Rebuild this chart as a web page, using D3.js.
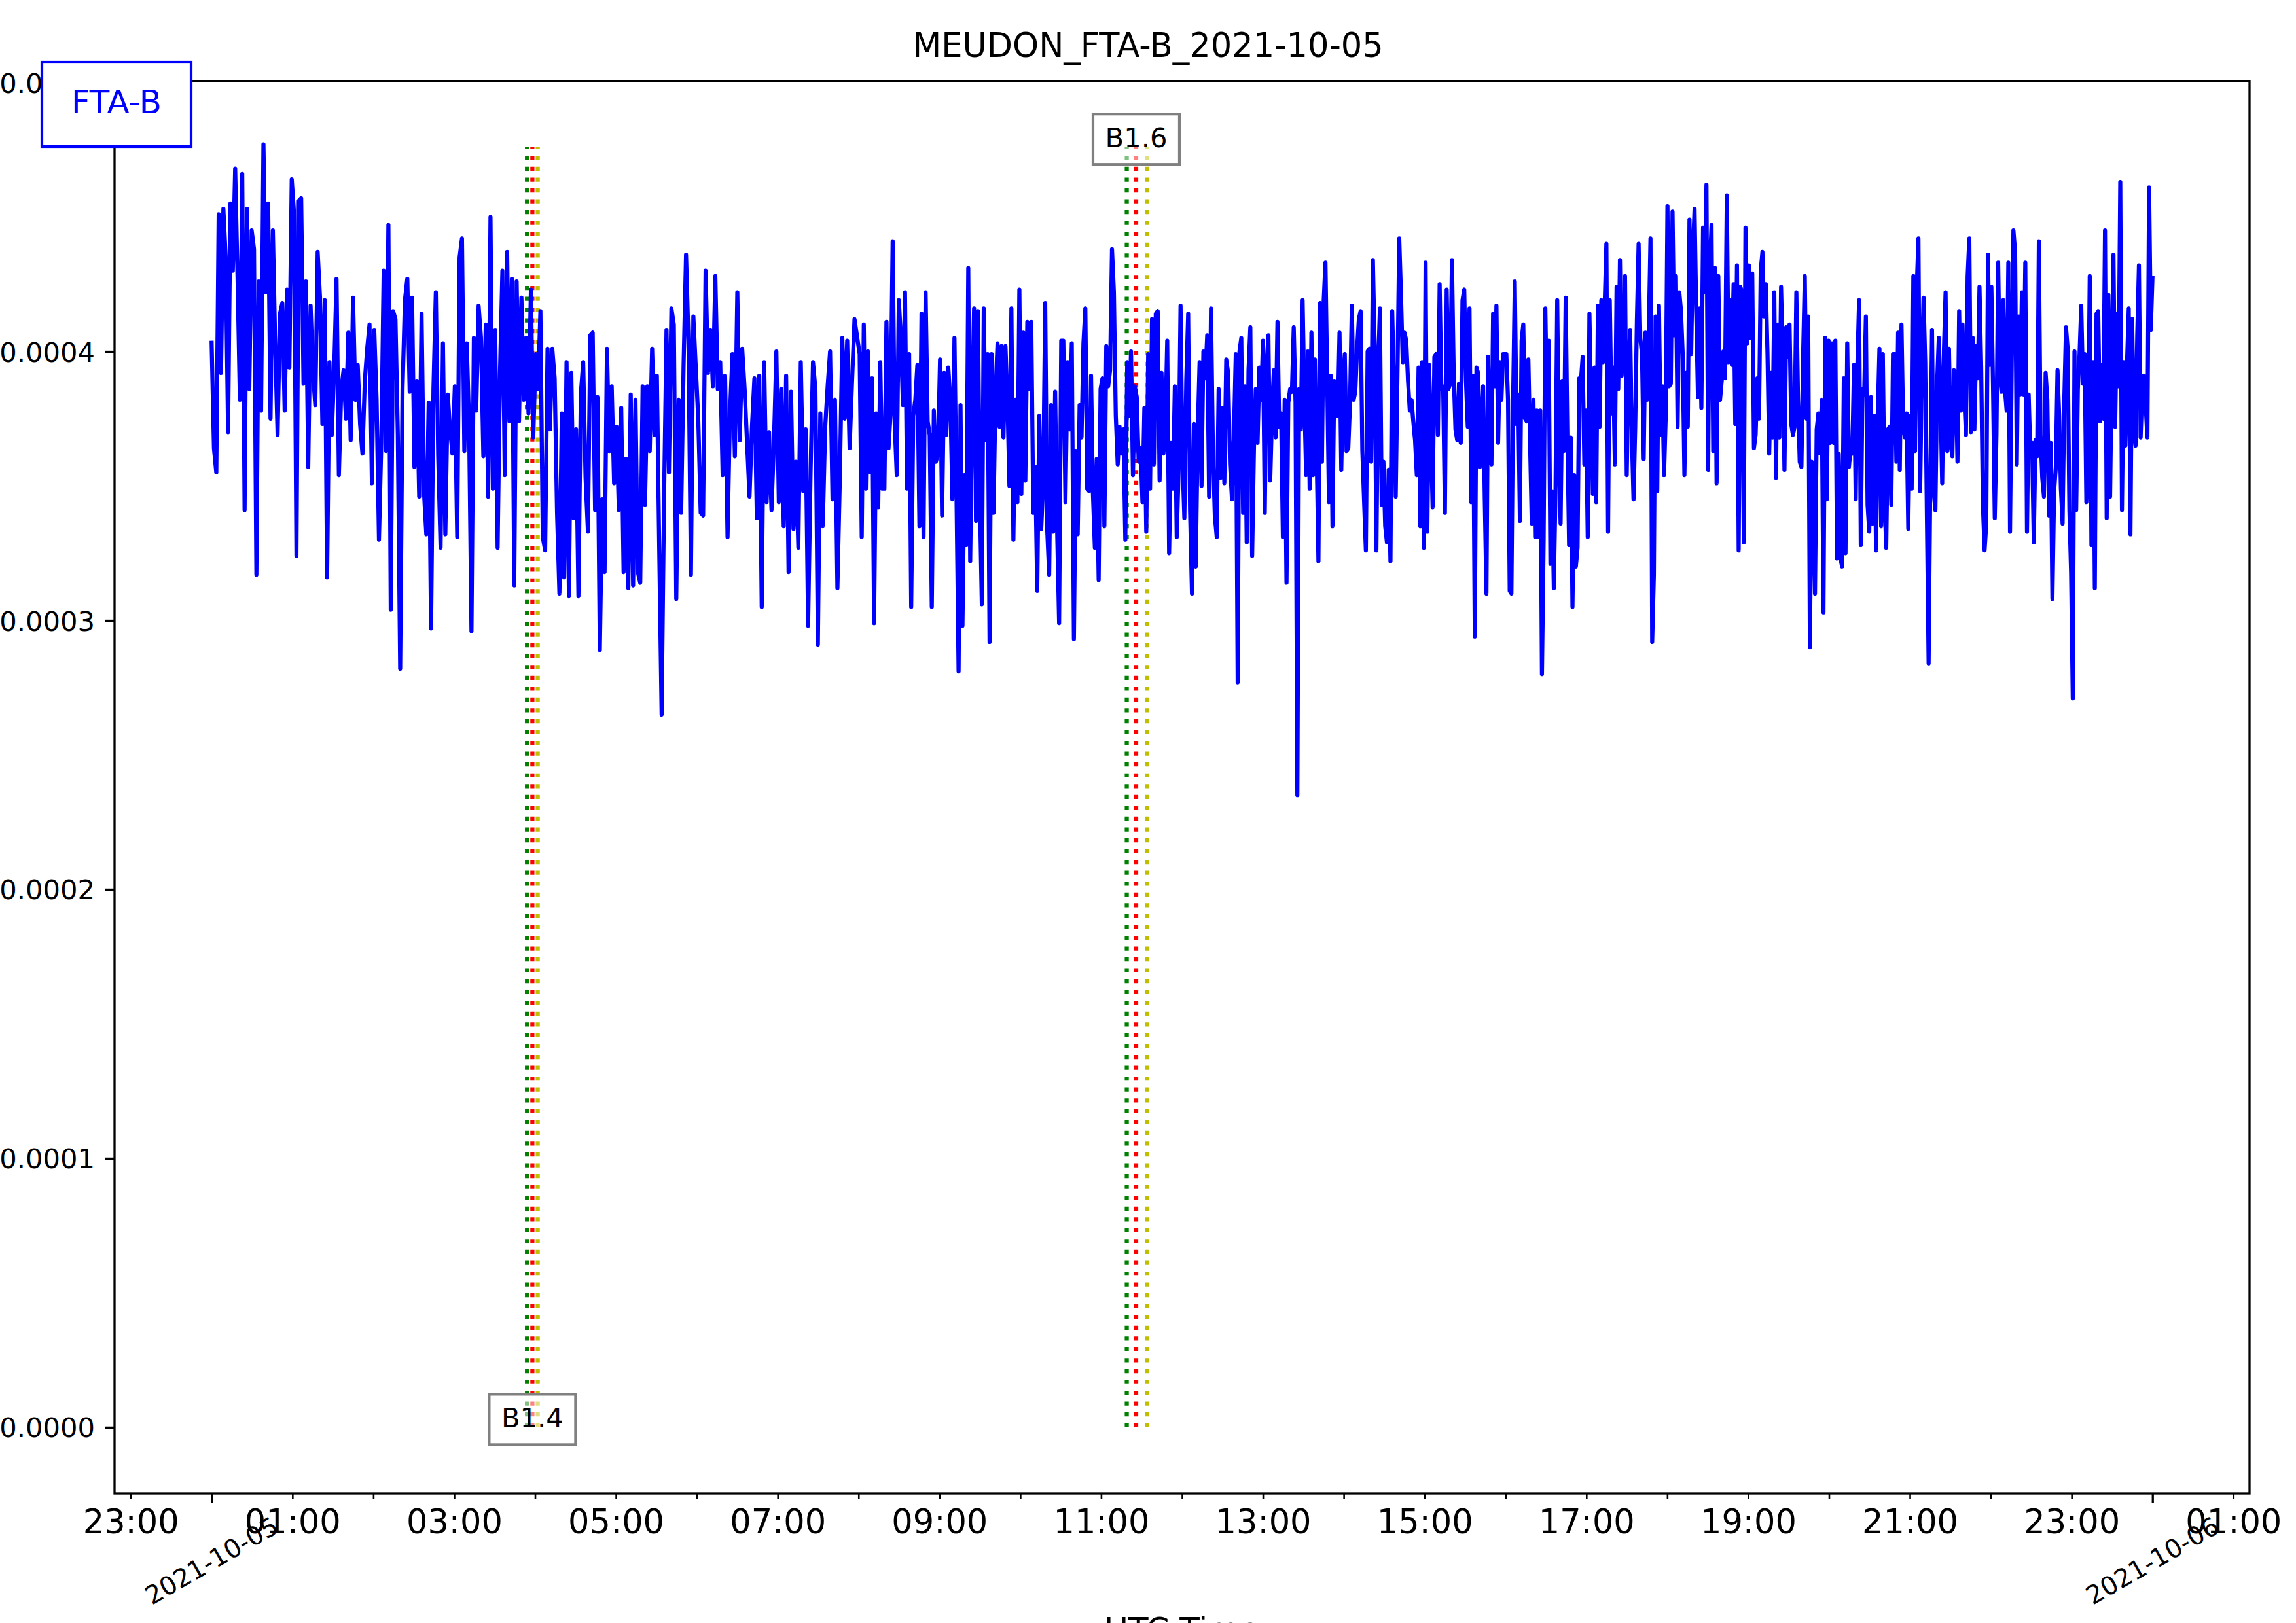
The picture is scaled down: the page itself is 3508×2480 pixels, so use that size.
<!DOCTYPE html>
<html><head><meta charset="utf-8">
<script src="https://cdn.jsdelivr.net/npm/d3@7"></script>
<style>html,body{margin:0;padding:0;background:#fff}svg{display:block}</style>
</head><body>
<svg id="chart" width="3508" height="2480"></svg>
<script>
// ---------------- data ----------------
const chartTitle = "MEUDON_FTA-B_2021-10-05";
const seriesName = "FTA-B";
const xAxisLabel = "UTC Time";
const dayStart = "2021-10-05T00:00:00Z";
const nextDay = "2021-10-06T00:00:00Z";
const dateLabels = ["2021-10-05", "2021-10-06"];
// signal amplitude, in units of 1e-4 in three consecutive pieces of the day
const seg1 = [4.04,3.64,3.55,4.51,3.92,4.53,4.35,3.70,4.55,4.30,4.68,4.28,3.82,4.66,3.41,4.53,3.86,4.45,4.38,3.17,4.26,3.78,4.77,4.22,4.55,3.75,4.45,4.02,3.69,4.14,4.18,3.78,4.23,3.94,4.64,4.51,3.24,4.56,4.57,3.88,4.26,3.57,4.17,3.92,3.80,4.37,4.20,3.73,4.19,3.16,3.96,3.69,3.93,4.27,3.54,3.86,3.93,3.75,4.07,3.67,4.20,3.82,3.95,3.73,3.62,3.89,4.01,4.10,3.51,4.08,3.82,3.30,3.66,4.30,3.63,4.47,3.04,4.15,4.12,3.69,2.82,3.86,4.19,4.27,3.85,4.20,3.57,3.89,3.46,4.14,3.48,3.32,3.81,2.97,3.86,4.22,3.61,3.27,4.03,3.32,3.84,3.71,3.62,3.87,3.31,4.35,4.42,3.63,4.03,3.73,2.96,4.05,3.78,4.17,4.05,3.61,4.10,3.46,4.50,3.49,4.08,3.27,3.92,4.30,3.54,4.37,3.74,4.27,3.13,4.26,3.74,4.20,3.82,4.05,3.77,4.23,3.68,3.99,3.86,4.15,3.31,3.26,4.01,3.71,4.01,3.90,3.40,3.10,3.77,3.16,3.96,3.09,3.92,3.38,3.71,3.09,3.84,3.96,3.53,3.33,4.06,4.07,3.41,3.83,2.89,3.45,3.18,4.01,3.63,3.87,3.51,3.72,3.41,3.79,3.18,3.60,3.12,3.84,3.13,3.82,3.18,3.14,3.87,3.43,3.87,3.63,4.01,3.69,3.91,3.26,2.65,3.46,4.08,3.55,4.16,4.10,3.08,3.82,3.40,3.95,4.36,4.04,3.17,4.13,3.94,3.75,3.40,3.39,4.30,3.92,4.08,3.87,4.28,3.86,3.96,3.54,3.91,3.31,3.77,3.99,3.61,4.22,3.67,4.01,3.86,3.66,3.46,3.72,3.90,3.38,3.91,3.05,3.96,3.44,3.70,3.41,3.66,4.00,3.44,3.86,3.35,3.91,3.18,3.85,3.34,3.59,3.27,3.96,3.48,3.71,2.98,3.55,3.96,3.86,2.91,3.77,3.35,3.72,3.87,4.00,3.45,3.82,3.12,3.53,4.05,3.75,4.04,3.64,3.89,4.12];
const seg2 = [3.99,3.31,4.10,3.49,4.00,3.55,3.90,2.99,3.77,3.42,3.96,3.49,3.49,4.11,3.64,3.77,4.41,3.73,3.54,4.19,4.05,3.80,4.22,3.49,3.99,3.05,3.76,3.82,3.95,3.35,4.14,3.31,4.22,3.74,3.69,3.05,3.78,3.59,3.62,3.97,3.39,3.92,3.69,3.94,3.82,3.45,4.05,3.46,2.81,3.80,2.98,3.54,3.28,4.31,3.22,3.79,4.16,3.37,4.15,3.45,3.06,4.16,3.67,3.99,2.92,3.99,3.40,3.84,4.03,3.72,4.02,3.68,4.02,3.82,3.50,4.16,3.30,3.82,3.44,4.23,3.47,4.07,3.52,4.11,3.86,4.11,3.40,3.57,3.11,3.76,3.34,3.51,4.18,3.34,3.17,3.80,3.33,3.85,3.34,2.99,4.04,4.04,3.44,3.96,3.71,4.03,2.93,3.63,3.32,3.80,3.68,4.03,4.16,3.49,3.48,3.91,3.47,3.27,3.60,3.15,3.86,3.90,3.35,4.02,3.87,3.93,4.38,4.22,3.76,3.58,3.72,3.62,3.71,3.30,3.96,3.76,4.00,3.54,3.87,3.83,3.59,3.64,3.44,3.79,3.33,3.99,3.49,4.12,3.58,4.14,4.15,3.52,3.92,3.62,3.71,4.04,3.25,3.66,3.49,3.87,3.31,3.56,4.17,3.60,3.38,3.89,4.14,3.41,3.10,3.73,3.20,3.69,3.96,3.50,4.00,3.90,4.06,3.46,4.16,3.63,3.39,3.31,3.86,3.53,3.79,3.51,3.97,3.92,3.58,3.45,3.68,3.99,2.77,4.00,4.05,3.40,3.87,3.29,3.93,4.09,3.24,3.64,3.86,3.66,3.94,3.82,4.04,3.40,3.95,4.06,3.52,3.77,3.93,3.68,4.11,3.72,3.77,3.31,3.82,3.14,3.81,3.86,3.85,4.09,3.81,2.35,3.86,3.71,4.19,3.82,3.54,4.00,3.49,4.07,3.54,3.97,3.62,3.22,4.18,3.59,4.19,4.33,3.89,3.44,3.91,3.35,3.89,3.78,3.76,4.07,3.56,3.90,3.99,3.63,3.64,3.81,4.17,3.82,3.85,4.01,4.12,4.15,3.63,3.44,3.26,4.00,4.01,3.59,4.34,4.02,3.26,3.95,4.16,3.43,3.59,3.35,3.29,3.56,3.22,4.15,3.86,3.46,3.92,4.42,4.21,3.96,4.07,4.04,3.89,3.78,3.82,3.74,3.67,3.54,3.94,3.35,3.96,3.27,4.33,3.33,3.95,3.69,3.42,3.98,3.99,3.69,4.25,3.86,3.87,3.40,4.23,3.86,3.88,4.34,3.92,3.71,3.67,3.88,3.66,4.19,4.23,3.89,3.72,4.16,3.44,3.91,2.94,3.94,3.92,3.57,3.72,3.87,3.45,3.10,3.98,3.68,3.58,4.14,3.87,4.17,3.66,3.96,3.82,3.99];
const seg3 = [3.99,3.82,3.11,3.10,3.82,4.26,3.73,3.84,3.37,4.04,4.10,3.75,3.74,3.97,3.66,3.36,3.82,3.31,3.78,3.31,3.78,2.80,3.30,4.16,3.77,4.04,3.21,3.48,3.12,3.48,4.19,3.62,3.36,3.89,3.63,4.20,3.69,3.28,3.68,3.05,3.54,3.20,3.27,3.90,3.89,3.98,3.58,3.78,3.31,4.14,3.79,3.47,3.94,3.44,4.17,3.72,4.19,3.96,4.17,4.40,3.33,4.19,3.77,3.94,3.58,4.24,3.86,4.34,3.91,4.05,4.28,3.54,3.92,4.08,3.69,3.45,3.72,4.12,4.40,4.05,3.99,3.60,4.07,3.82,4.07,4.42,2.92,3.17,4.13,3.48,4.17,3.69,3.87,3.54,3.76,4.54,3.87,3.88,4.52,4.06,4.28,3.72,4.22,4.15,3.99,3.54,3.92,3.72,4.49,3.99,4.37,4.53,4.14,3.83,4.16,3.79,4.46,4.22,4.62,3.56,4.32,4.47,3.63,4.31,3.51,4.28,3.82,3.89,4.00,3.90,4.58,3.96,4.19,3.95,4.25,3.73,4.32,3.26,4.24,4.22,3.29,4.46,4.03,4.32,4.05,4.29,3.64,3.69,3.90,3.75,4.30,4.37,4.13,4.25,3.99,3.62,3.92,3.68,4.22,3.53,4.10,3.68,4.24,3.97,3.56,4.09,3.98,4.10,3.73,3.69,3.72,4.22,3.82,3.59,3.57,3.99,4.28,3.75,4.13,2.90,3.59,3.48,3.10,3.71,3.77,3.62,3.82,3.03,4.05,3.45,4.04,3.66,4.03,3.66,4.04,3.23,3.62,3.23,3.20,3.90,3.25,4.03,3.57,3.64,3.62,3.95,3.45,3.95,4.19,3.28,3.86,3.84,4.13,3.43,3.33,3.83,3.36,3.76,3.26,3.76,4.01,3.35,3.99,3.45,3.27,3.71,3.72,3.43,3.99,3.99,3.59,4.07,3.56,4.10,3.72,3.68,3.77,3.34,3.76,3.49,4.28,3.63,4.24,4.42,3.48,3.92,4.20,3.96,3.38,2.84,3.53,4.08,3.48,3.41,3.88,4.05,3.82,3.51,4.00,4.22,3.63,4.01,3.66,3.61,3.93,3.92,3.59,4.15,3.78,4.10,3.84,3.69,4.28,4.42,3.70,4.05,3.71,4.02,3.90,4.24,3.94,3.43,3.26,3.36,4.36,3.95,4.24,3.86,3.38,3.69,4.33,3.92,3.85,4.19,3.86,3.78,4.33,3.33,3.96,4.45,4.37,3.58,4.13,3.84,4.22,3.84,4.33,3.33,3.84,3.61,3.66,3.29,3.67,3.61,4.41,3.69,3.53,3.46,3.92,3.82,3.39,3.66,3.08,3.48,3.57,3.93,3.76,3.49,3.36,3.82,4.09,4.01,3.41,3.18,2.71,4.00,3.41,3.86,3.99,4.17,3.88,3.99,3.44,3.63,4.28,3.28,3.96,3.12,4.14,4.15,3.74,3.95,3.75,4.45,3.38,4.21,3.46,3.96,4.36,3.72,4.14,3.87,4.63,3.41,3.96,3.65,3.96,4.16,3.32,4.12,3.72,3.65,4.06,4.32,3.68,3.86,3.91,3.80,3.68,4.61,4.08,4.28];
// sample index -> UTC hour, read at recognisable dips of each piece (times in between follow sample order)
const seg1AnchorIndex = [0, 80, 190, 269];
const seg1AnchorHour = [0.00, 2.332, 5.565, 7.95];
const seg2AnchorIndex = [0, 48, 64, 99, 106, 192, 225, 326, 343];
const seg2AnchorHour = [8.014, 9.237, 9.62, 10.48, 10.663, 12.688, 13.426, 15.62, 15.97];
const seg3AnchorIndex = [0, 397];
const seg3AnchorHour = [16.01, 24.00];
const valueUnit = 1e-4;
// flare markers (start, peak, end) and their labels
const flareNames = ["B1.4", "B1.6"];
const flareStart = ["03:54", "11:19"];
const flarePeak = ["03:58", "11:26"];
const flareEnd = ["04:02", "11:34"];
const flareLabelEnd = ["bottom", "top"];
const markerRange = [0, 0.000476];
const markerColors = ["#008000", "#ff0000", "#bfbf00"];
const yTickValues = [0, 0.0001, 0.0002, 0.0003, 0.0004, 0.0005];
const yDomain = [-0.0000246, 0.0005005];
const xPadHours = 1.2;

// ---------------- layout ----------------
const W = 3508, H = 2480;
const L = 175, R = 3437, T = 124, B = 2282;
const FONT = "'DejaVu Sans', 'Liberation Sans', sans-serif";
const svg = d3.select("#chart");

const t0 = new Date(dayStart), t1 = new Date(nextDay);
const hourMs = 3600e3;
const atHour = h => new Date(t0.getTime() + h * hourMs);
const atClock = s => { const [hh, mm] = s.split(":").map(Number); return atHour(hh + mm / 60); };

const x = d3.scaleUtc().domain([atHour(-xPadHours), atHour(24 + xPadHours)]).range([L, R]);
const y = d3.scaleLinear().domain(yDomain).range([B, T]);

// build series points
const points = [];
const segs = [seg1, seg2, seg3];
const anchorIdx = [seg1AnchorIndex, seg2AnchorIndex, seg3AnchorIndex];
const anchorHr = [seg1AnchorHour, seg2AnchorHour, seg3AnchorHour];
segs.forEach((seg, k) => {
  const idx = anchorIdx[k].slice();
  idx[idx.length - 1] = seg.length - 1;
  const hourOf = d3.scaleLinear().domain(idx).range(anchorHr[k]);
  seg.forEach((v, i) => points.push({ t: atHour(hourOf(i)), v: v * valueUnit }));
});

// ----- flare marker lines -----
const markers = svg.append("g");
flareNames.forEach((name, i) => {
  [flareStart[i], flarePeak[i], flareEnd[i]].forEach((tm, j) => {
    const xx = x(atClock(tm));
    markers.append("line")
      .attr("x1", xx).attr("x2", xx)
      .attr("y1", y(markerRange[0])).attr("y2", y(markerRange[1]))
      .attr("stroke", markerColors[j]).attr("stroke-width", 6.25)
      .attr("stroke-dasharray", "6.25 10.3");
  });
});

// ----- series line -----
svg.append("path").datum(points)
  .attr("d", d3.line().x(d => x(d.t)).y(d => y(d.v)))
  .attr("fill", "none").attr("stroke", "#0000ff")
  .attr("stroke-width", 6.25).attr("stroke-linejoin", "round");

// ----- flare labels -----
flareNames.forEach((name, i) => {
  const cx = x(atClock(flarePeak[i]));
  const cy = y(flareLabelEnd[i] === "bottom" ? markerRange[0] : markerRange[1]) - 12;
  const g = svg.append("g");
  const bw = 132, bh = 77;
  g.append("rect").attr("x", cx - bw / 2).attr("y", cy - bh / 2).attr("width", bw).attr("height", bh)
    .attr("fill", "#fff").attr("fill-opacity", 0.5).attr("stroke", "#808080").attr("stroke-width", 4.2);
  g.append("text").attr("x", cx).attr("y", cy + 12).attr("text-anchor", "middle")
    .attr("font-family", FONT).attr("font-size", 41.67).attr("fill", "#000").text(name);
});

// ----- y axis -----
const yAxis = d3.axisLeft(y).tickValues(yTickValues).tickFormat(d3.format(".4f"))
  .tickSize(14.6).tickPadding(15.4);
const gy = svg.append("g").attr("transform", `translate(${L},0)`).call(yAxis);
gy.select(".domain").remove();
gy.selectAll(".tick line").attr("stroke", "#000").attr("stroke-width", 3.3);
gy.selectAll(".tick text").attr("font-family", FONT).attr("font-size", 41.67).attr("fill", "#000").attr("dy", "0.36em");

// ----- x axis: hourly minor ticks, odd hours labelled -----
const hours = d3.utcHour.every(1).range(atHour(-1), atHour(25.5)).filter(d => +d !== +t0 && +d !== +t1);
const xMinor = d3.axisBottom(x).tickValues(hours)
  .tickFormat(d => d.getUTCHours() % 2 === 1 ? d3.utcFormat("%H:%M")(d) : "")
  .tickSize(8.3).tickPadding(16.5);
const gx = svg.append("g").attr("transform", `translate(0,${B})`).call(xMinor);
gx.select(".domain").remove();
gx.selectAll(".tick line").attr("stroke", "#000").attr("stroke-width", 2.6);
gx.selectAll(".tick text").attr("font-family", FONT).attr("font-size", 51).attr("fill", "#000");

// major ticks at midnight with rotated date labels
const xMajor = d3.axisBottom(x).tickValues([t0, t1]).tickFormat("").tickSize(14.6);
const gxm = svg.append("g").attr("transform", `translate(0,${B})`).call(xMajor);
gxm.select(".domain").remove();
gxm.selectAll(".tick line").attr("stroke", "#000").attr("stroke-width", 3.3);
[t0, t1].forEach((d, i) => {
  svg.append("text")
    .attr("transform", `translate(${x(d)},2385) rotate(-30)`)
    .attr("text-anchor", "middle").attr("dominant-baseline", "central")
    .attr("font-family", FONT).attr("font-size", 39).attr("fill", "#000")
    .text(dateLabels[i]);
});

// frame
svg.append("rect").attr("x", L).attr("y", T).attr("width", R - L).attr("height", B - T)
  .attr("fill", "none").attr("stroke", "#000").attr("stroke-width", 3.3);

// x label (mostly below page)
svg.append("text").attr("x", (L + R) / 2).attr("y", 2507).attr("text-anchor", "middle")
  .attr("font-family", FONT).attr("font-size", 50).attr("fill", "#000").text(xAxisLabel);

// title
svg.append("text").attr("x", W / 2).attr("y", 87).attr("text-anchor", "middle")
  .attr("font-family", FONT).attr("font-size", 51).attr("fill", "#000").text(chartTitle);

// legend box
const lg = svg.append("g");
lg.append("rect").attr("x", 64).attr("y", 95).attr("width", 228).attr("height", 129)
  .attr("fill", "#fff").attr("stroke", "#0000ff").attr("stroke-width", 4.2);
lg.append("text").attr("x", 178).attr("y", 173).attr("text-anchor", "middle")
  .attr("font-family", FONT).attr("font-size", 50).attr("fill", "#0000ff").text(seriesName);
</script>
</body></html>
